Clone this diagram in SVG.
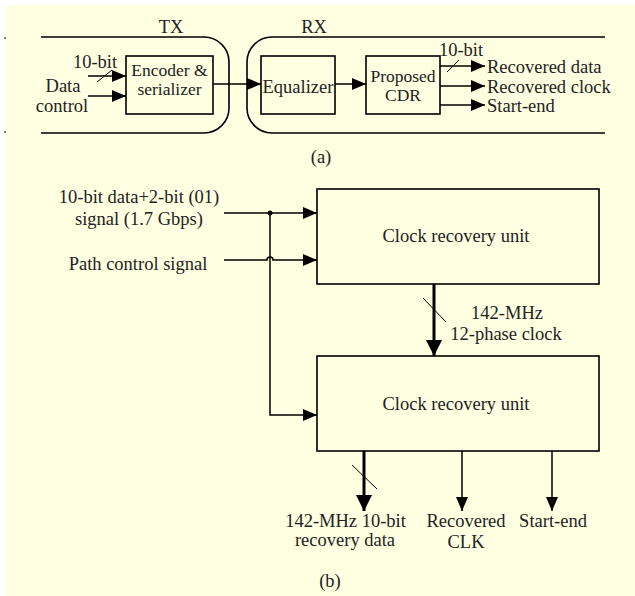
<svg xmlns="http://www.w3.org/2000/svg" width="635" height="596" viewBox="0 0 635 596" font-family="'Liberation Serif', 'Times New Roman', serif">
<defs>
<marker id="ah" markerUnits="userSpaceOnUse" markerWidth="14" markerHeight="12" refX="14" refY="6" orient="auto"><path d="M0,0 L14,6 L0,12 z" fill="#000"/></marker>
<marker id="ahb" markerUnits="userSpaceOnUse" markerWidth="16" markerHeight="16" refX="16" refY="8" orient="auto"><path d="M0,0 L16,8 L0,16 z" fill="#000"/></marker>
</defs>
<style>
text{font-family:'Liberation Serif','Times New Roman',serif;font-size:18.5px;fill:#222;}
.m{text-anchor:middle;}
.s{font-size:17.5px;}
.box{fill:none;stroke:#000;stroke-width:1.6;}
.ln{fill:none;stroke:#000;stroke-width:1.5;}
.thin{fill:none;stroke:#000;stroke-width:1;}
.thick{fill:none;stroke:#000;stroke-width:3;}
</style>
<rect x="0" y="0" width="635" height="596" fill="#fff"/>
<rect x="6" y="5" width="629" height="591" fill="#FFFFE1"/>
<line x1="4" y1="38" x2="6" y2="38" stroke="#000" stroke-width="1"/>
<line x1="4" y1="132" x2="6" y2="132" stroke="#000" stroke-width="1"/>

<g id="tx">
<path class="box" d="M41,37 H204 A25,25 0 0 1 229,62 V108 A25,25 0 0 1 204,133 H41"/>
<text class="m" x="171" y="33">TX</text>
</g>
<g id="rx">
<path class="box" d="M605,37 H272 A25,25 0 0 0 247,62 V108 A25,25 0 0 0 272,133 H605"/>
<text class="m" x="314" y="33">RX</text>
</g>
<g id="encoder">
<rect class="box" x="126" y="56" width="87" height="58"/>
<text class="m s" x="169.5" y="76">Encoder &amp;</text>
<text class="m s" x="169.5" y="95">serializer</text>
</g>
<g id="equalizer">
<rect class="box" x="261" y="56" width="74" height="58"/>
<text class="m" x="298" y="93">Equalizer</text>
</g>
<g id="cdr">
<rect class="box" x="366" y="56" width="74" height="58"/>
<text class="m s" x="403" y="82">Proposed</text>
<text class="m s" x="403" y="101">CDR</text>
</g>
<g id="a-labels">
<text class="m" x="95" y="68">10-bit</text>
<text class="m" x="63" y="92">Data</text>
<text class="m" x="62" y="112">control</text>
<text class="m" x="461" y="56">10-bit</text>
<text x="487" y="73">Recovered data</text>
<text x="487" y="93">Recovered clock</text>
<text x="487" y="112">Start-end</text>
<text class="m" x="321" y="163">(a)</text>
</g>

<g id="cru1">
<rect class="box" x="317" y="189" width="282" height="95"/>
<text class="m" x="456" y="242">Clock recovery unit</text>
</g>
<g id="cru2">
<rect class="box" x="317" y="356" width="282" height="95"/>
<text class="m" x="456" y="410">Clock recovery unit</text>
</g>
<g id="b-labels">
<text class="m" x="139" y="203">10-bit data+2-bit (01)</text>
<text class="m" x="139" y="225">signal (1.7 Gbps)</text>
<text class="m" x="138" y="270">Path control signal</text>
<text class="m" x="507" y="319">142-MHz</text>
<text class="m" x="506" y="340">12-phase clock</text>
<text class="m" x="345.5" y="527">142-MHz 10-bit</text>
<text class="m" x="345" y="546">recovery data</text>
<text class="m" x="466" y="527">Recovered</text>
<text class="m" x="466" y="548">CLK</text>
<text class="m" x="553" y="527">Start-end</text>
<text class="m" x="330" y="587">(b)</text>
</g>

<g id="connectors">
<line class="ln" x1="88" y1="76" x2="126" y2="76" marker-end="url(#ah)"/>
<line class="ln" x1="88" y1="96" x2="126" y2="96" marker-end="url(#ah)"/>
<line class="thin" x1="97" y1="82" x2="112" y2="70"/>
<line class="ln" x1="213" y1="84" x2="261" y2="84" marker-end="url(#ah)"/>
<line class="ln" x1="335" y1="84" x2="366" y2="84" marker-end="url(#ah)"/>
<line class="ln" x1="440" y1="66" x2="485" y2="66" marker-end="url(#ah)"/>
<line class="thin" x1="447" y1="72" x2="459" y2="60"/>
<line class="ln" x1="440" y1="86" x2="485" y2="86" marker-end="url(#ah)"/>
<line class="ln" x1="440" y1="105" x2="485" y2="105" marker-end="url(#ah)"/>

<line class="ln" x1="224" y1="213" x2="317" y2="213" marker-end="url(#ah)"/>
<circle cx="270" cy="213" r="2.5" fill="#000"/>
<path class="ln" d="M224,260 H267 A3,3 0 0 1 273,260 H317" marker-end="url(#ah)"/>
<path class="ln" d="M270,213 V415 H317" marker-end="url(#ah)"/>

<line class="thick" x1="434" y1="284" x2="434" y2="356" marker-end="url(#ahb)"/>
<line class="thin" x1="423" y1="298" x2="446" y2="322"/>

<line class="thick" x1="364" y1="451" x2="364" y2="511" marker-end="url(#ahb)"/>
<line class="thin" x1="352" y1="465" x2="377" y2="489"/>
<line class="ln" x1="462" y1="451" x2="462" y2="511" marker-end="url(#ah)"/>
<line class="ln" x1="552" y1="451" x2="552" y2="511" marker-end="url(#ah)"/>
</g>
</svg>
